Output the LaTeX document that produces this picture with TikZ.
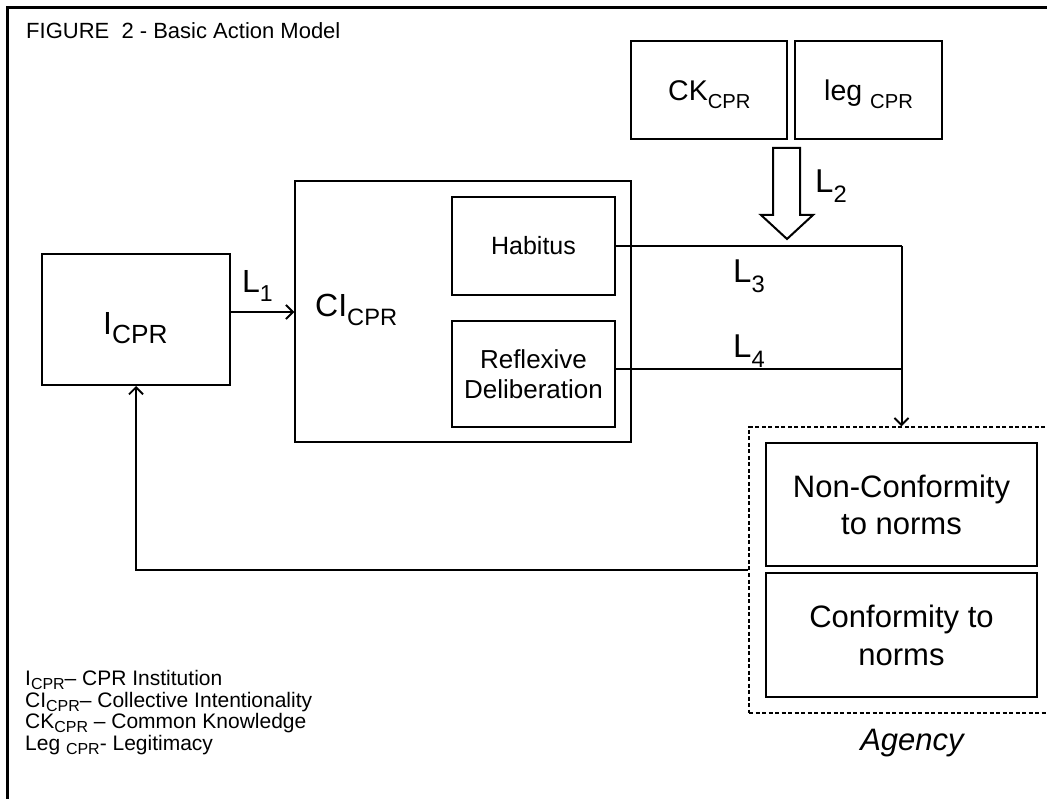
\documentclass[tikz,border=0pt]{standalone}
\usepackage{fontspec}
\setmainfont{Liberation Sans}
\usetikzlibrary{arrows.meta}
\newcommand\lo[2]{\raisebox{-0.28em}{\scalebox{#1}{#2}}}
\newcommand\los[2]{\raisebox{-0.2em}{\scalebox{#1}{#2}}}
\newcommand\fs[1]{\fontsize{#1}{#1}\selectfont}
\newcommand\fsl[2]{\fontsize{#1}{#2}\selectfont}
\tikzset{
  box/.style={draw, line width=2pt, inner sep=0pt, align=center},
  conn/.style={line width=2pt},
  arr/.style={conn, -{Straight Barb[length=7pt,width=14pt,line width=1.9pt]}},
  txt/.style={inner sep=0pt, anchor=base west},
  frame/.style={line width=3pt},
}
\begin{document}
\begin{tikzpicture}[x=1pt,y=-1pt]
\useasboundingbox (0,0) rectangle (1047,799);
% frame
\coordinate (f1) at (7,799);
\coordinate (f2) at (7,8);
\coordinate (f3) at (1047,8);
\draw[frame] (f1) -- (f2) -- (f3);
\node[txt, font=\fs{22}] (title) at (26,39) {FIGURE\ \ 2 - Basic Action Model};

% boxes
\node[box, minimum width=188pt, minimum height=131pt] (I) at (136,319.5) {};
\node[txt, font=\fs{32}] (It) at (103,335) {I\lo{0.82}{CPR}};

\node[box, line width=1.5pt, minimum width=336pt, minimum height=261pt] (CI) at (463,311.5) {};
\node[txt, font=\fs{32}] (CIt) at (315,317) {CI\lo{0.74}{CPR}};

\node[box, minimum width=163pt, minimum height=98pt, font=\fs{25}] (H) at (533.5,246) {Habitus};
\node[box, minimum width=163pt, minimum height=106pt, font={\fsl{26}{30}}] (R) at (533.5,374) {Reflexive\\Deliberation};

\node[box, minimum width=156pt, minimum height=98pt] (CK) at (709,90) {};
\node[txt, font=\fs{28.5}] (CKt) at (668,101) {CK\lo{0.71}{CPR}};
\node[box, minimum width=147pt, minimum height=98pt] (LG) at (868.5,90) {};
\node[txt, font=\fs{28.5}] (LGt) at (824,101) {leg \lo{0.71}{CPR}};

\node[draw, dash pattern=on 4pt off 2.5pt, line width=1.4pt, minimum width=304pt, minimum height=286pt, inner sep=0pt] (A) at (901,570) {};
\node[box, minimum width=271pt, minimum height=123pt, font={\fsl{31}{37}}] (NC) at (901.5,504.5) {Non-Conformity\\to norms};
\node[box, minimum width=271pt, minimum height=124pt, font={\fsl{31}{38}}] (C) at (901.5,635) {Conformity to\\norms};
\node[inner sep=0pt, anchor=base, font=\fs{31}\itshape] (At) at (912,750) {Agency};

% L2 hollow arrow
\draw[line width=2pt, line join=miter] (773,148) -- (800,148) -- (800,215) -- (813,215) -- (787,239) -- (761,215) -- (773,215) -- cycle;

% connectors
\coordinate (j) at (901.5,246);
\coordinate (k) at (901.5,369);
\draw[arr] ([yshift=7.5pt]I.east) -- ([yshift=7.5pt]I.east -| CI.west);
\draw[conn] (H.east) -- (j);
\draw[arr] (j) -- (j |- A.north);
\draw[conn] ([yshift=5pt]R.east) -- (k);
\draw[arr] (A.west) -| (I.south);

% labels
\node[txt, font=\fs{32}] (L1) at (242,293) {L\lo{0.72}{1}};
\node[txt, font=\fs{33}] (L2) at (815,193) {L\lo{0.72}{2}};
\node[txt, font=\fs{33}] (L3) at (733,283) {L\lo{0.72}{3}};
\node[txt, font=\fs{33}] (L4) at (733,358) {L\lo{0.72}{4}};

% legend
\node[txt, font=\fs{21}] (g1) at (25,685) {I\los{0.76}{CPR}– CPR Institution};
\node[txt, font=\fs{21}] (g2) at (25,707) {CI\los{0.76}{CPR}– Collective Intentionality};
\node[txt, font=\fs{21}] (g3) at (25,728.5) {CK\los{0.76}{CPR} – Common Knowledge};
\node[txt, font=\fs{21}] (g4) at (25,750) {Leg \los{0.76}{CPR}- Legitimacy};
\end{tikzpicture}
\end{document}
